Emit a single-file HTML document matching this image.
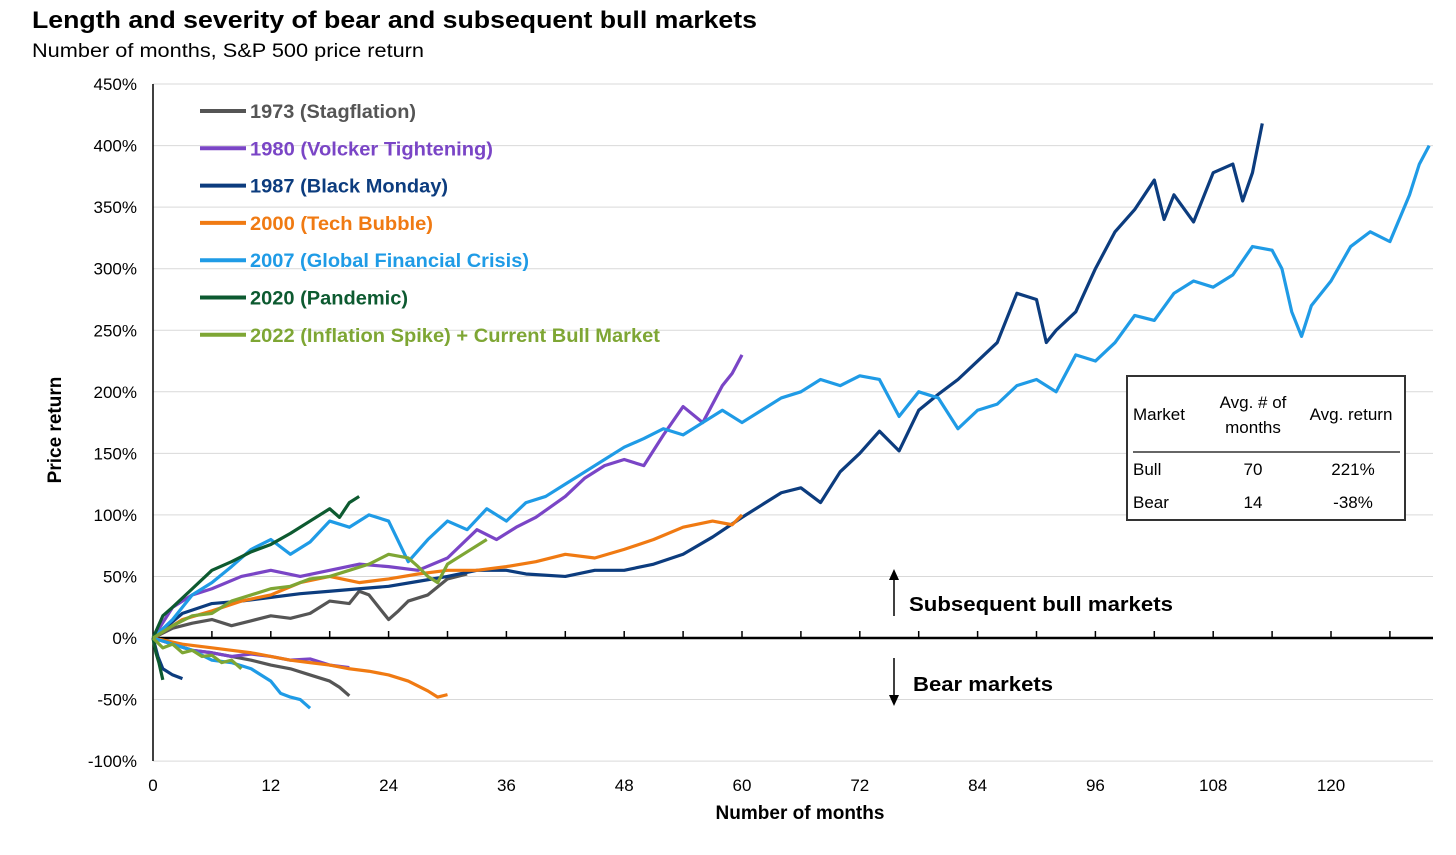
<!DOCTYPE html>
<html><head><meta charset="utf-8">
<style>
body{margin:0;background:#fff;font-family:"Liberation Sans",Arial,sans-serif;}
svg text{font-family:"Liberation Sans",Arial,sans-serif;}
</style></head>
<body>
<svg id="chart" width="1456" height="850" viewBox="0 0 1456 850" xmlns="http://www.w3.org/2000/svg">
<text x="32" y="28" font-size="24" font-weight="bold" fill="#000" textLength="725" lengthAdjust="spacingAndGlyphs">Length and severity of bear and subsequent bull markets</text>
<text x="32" y="57" font-size="19" fill="#000" textLength="392" lengthAdjust="spacingAndGlyphs">Number of months, S&amp;P 500 price return</text>
<g id="grid"></g>
<g id="axes"></g>
<g id="series"></g>
<g id="legend"></g>
<text transform="translate(61,430) rotate(-90)" text-anchor="middle" font-size="19" font-weight="bold">Price return</text>
<text x="800" y="819" text-anchor="middle" font-size="19" font-weight="bold">Number of months</text>
<g>
<line x1="894" y1="616" x2="894" y2="576" stroke="#000" stroke-width="1.5"/>
<polygon points="889,580 899,580 894,569" fill="#000"/>
<text x="909" y="611" font-size="20" font-weight="bold" textLength="264" lengthAdjust="spacingAndGlyphs">Subsequent bull markets</text>
</g>
<g>
<line x1="894" y1="658" x2="894" y2="699" stroke="#000" stroke-width="1.5"/>
<polygon points="889,695 899,695 894,706" fill="#000"/>
<text x="913" y="691" font-size="20" font-weight="bold" textLength="140" lengthAdjust="spacingAndGlyphs">Bear markets</text>
</g>
<g>
<rect x="1127" y="376" width="278" height="144" fill="#fff" stroke="#333" stroke-width="2"/>
<text x="1133" y="420" font-size="17">Market</text>
<text x="1253" y="408" font-size="17" text-anchor="middle">Avg. # of</text>
<text x="1253" y="433" font-size="17" text-anchor="middle">months</text>
<text x="1351" y="420" font-size="17" text-anchor="middle">Avg. return</text>
<line x1="1133" y1="452" x2="1400" y2="452" stroke="#333" stroke-width="1.5"/>
<text x="1133" y="475" font-size="17">Bull</text>
<text x="1253" y="475" font-size="17" text-anchor="middle">70</text>
<text x="1353" y="475" font-size="17" text-anchor="middle">221%</text>
<text x="1133" y="508" font-size="17">Bear</text>
<text x="1253" y="508" font-size="17" text-anchor="middle">14</text>
<text x="1353" y="508" font-size="17" text-anchor="middle">-38%</text>
</g>
</svg>
<script>
const yTicks=[450,400,350,300,250,200,150,100,50,0,-50,-100];
const xTicks=[0,12,24,36,48,60,72,84,96,108,120];
const seriesNames=["1973 (Stagflation)","1980 (Volcker Tightening)","1987 (Black Monday)","2000 (Tech Bubble)","2007 (Global Financial Crisis)","2020 (Pandemic)","2022 (Inflation Spike) + Current Bull Market"];
const legendWidths=[166,243,198,183,279,158,410];
const seriesColors=["#555555","#7a45c6","#0c3c7e","#f07a12","#1f9be6","#0d5a30","#7ea634"];
const bear1973=[[0,0],[2,-5],[4,-10],[6,-12],[8,-15],[10,-18],[12,-22],[14,-25],[16,-30],[18,-35],[19,-40],[20,-47]];
const bull1973=[[0,0],[2,8],[4,12],[6,15],[8,10],[10,14],[12,18],[14,16],[16,20],[18,30],[20,28],[21,38],[22,35],[23,25],[24,15],[25,22],[26,30],[28,35],[30,48],[32,52]];
const bear1980=[[0,0],[2,-5],[4,-10],[6,-12],[8,-15],[10,-13],[12,-15],[14,-18],[16,-17],[18,-22],[20,-24]];
const bull1980=[[0,0],[2,25],[4,35],[6,40],[9,50],[12,55],[15,50],[18,55],[21,60],[24,58],[27,55],[30,65],[33,88],[35,80],[37,90],[39,98],[42,115],[44,130],[46,140],[48,145],[50,140],[52,165],[54,188],[56,175],[58,205],[59,215],[60,230]];
const bear1987=[[0,0],[0.5,-15],[1,-25],[2,-30],[3,-33]];
const bull1987=[[0,0],[3,20],[6,28],[9,30],[12,33],[15,36],[18,38],[21,40],[24,42],[27,46],[30,50],[33,55],[36,55],[38,52],[42,50],[45,55],[48,55],[51,60],[54,68],[57,82],[60,98],[62,108],[64,118],[66,122],[68,110],[70,135],[72,150],[74,168],[76,152],[78,185],[80,198],[82,210],[84,225],[86,240],[88,280],[90,275],[91,240],[92,250],[94,265],[96,300],[98,330],[100,348],[102,372],[103,340],[104,360],[106,338],[108,378],[110,385],[111,355],[112,378],[113,418]];
const bear2000=[[0,0],[3,-5],[6,-8],[8,-10],[10,-12],[12,-15],[14,-18],[16,-20],[18,-22],[20,-25],[22,-27],[24,-30],[26,-35],[28,-43],[29,-48],[30,-46]];
const bull2000=[[0,0],[3,15],[6,22],[9,30],[12,35],[15,45],[18,50],[21,45],[24,48],[27,52],[30,55],[33,55],[36,58],[39,62],[42,68],[45,65],[48,72],[51,80],[54,90],[57,95],[59,92],[60,100]];
const bear2007=[[0,0],[2,-5],[4,-10],[6,-18],[8,-20],[10,-25],[12,-35],[13,-45],[14,-48],[15,-50],[16,-57]];
const bull2007=[[0,0],[2,15],[4,35],[6,45],[8,58],[10,72],[12,80],[14,68],[16,78],[18,95],[20,90],[22,100],[24,95],[26,62],[28,80],[30,95],[32,88],[34,105],[36,95],[38,110],[40,115],[42,125],[44,135],[46,145],[48,155],[50,162],[52,170],[54,165],[56,175],[58,185],[60,175],[62,185],[64,195],[66,200],[68,210],[70,205],[72,213],[74,210],[76,180],[78,200],[80,195],[82,170],[84,185],[86,190],[88,205],[90,210],[92,200],[94,230],[96,225],[98,240],[100,262],[102,258],[104,280],[106,290],[108,285],[110,295],[112,318],[114,315],[115,300],[116,265],[117,245],[118,270],[120,290],[122,318],[124,330],[126,322],[128,360],[129,385],[130,400]];
const bear2020=[[0,0],[0.3,-12],[0.6,-20],[1,-34]];
const bull2020=[[0,0],[1,18],[2,25],[4,40],[6,55],[8,62],[10,70],[12,76],[14,85],[16,95],[18,105],[19,98],[20,110],[21,115]];
const bear2022=[[0,0],[1,-8],[2,-5],[3,-12],[4,-10],[5,-15],[6,-14],[7,-20],[8,-18],[9,-25]];
const bull2022=[[0,0],[2,10],[4,18],[6,20],[8,30],[10,35],[12,40],[14,42],[16,48],[18,50],[20,55],[22,60],[24,68],[26,65],[27,58],[28,50],[29,45],[30,60],[32,70],[34,80]];
const seriesData=[[bear1973,bull1973],[bear1980,bull1980],[bear1987,bull1987],[bear2000,bull2000],[bear2007,bull2007],[bear2020,bull2020],[bear2022,bull2022]];
const seriesKeys=["1973","1980","1987","2000","2007","2020","2022"];
const NS="http://www.w3.org/2000/svg";
const X0=153,XPER=117.8/12,Y0=638,YPER=61.55/50;
const xs=m=>X0+m*XPER, ys=v=>Y0-v*YPER;
function mk(tag,attrs,parent){const e=document.createElementNS(NS,tag);for(const k in attrs)e.setAttribute(k,attrs[k]);parent.appendChild(e);return e;}
const grid=document.getElementById('grid'),axes=document.getElementById('axes'),ser=document.getElementById('series'),leg=document.getElementById('legend');
yTicks.forEach(t=>{
 if(t!==0){const g=mk('line',{x1:X0,x2:1433,y1:ys(t),y2:ys(t),stroke:'#d9d9d9','stroke-width':1},grid);
 
 }
 const lb=mk('text',{x:137,y:ys(t)+6,'text-anchor':'end','font-size':17},axes);lb.textContent=t+'%';
 
 
});
xTicks.forEach(t=>{
 const lb=mk('text',{x:xs(t),y:791,'text-anchor':'middle','font-size':17},axes);lb.textContent=t;
 
 
});
for(let m=6;m<=130;m+=6){const tk=mk('line',{x1:xs(m),x2:xs(m),y1:Y0,y2:Y0-7,stroke:'#000','stroke-width':1.5},axes);
 
 }
const ya=mk('line',{x1:X0,x2:X0,y1:84,y2:761,stroke:'#000','stroke-width':1.5},axes);


const xa=mk('line',{x1:X0,x2:1433,y1:Y0,y2:Y0,stroke:'#000','stroke-width':2.5},axes);


seriesData.forEach((pair,i)=>{
 pair.forEach((arr,j)=>{
  const p=mk('polyline',{points:arr.map(d=>xs(d[0])+','+ys(d[1])).join(' '),fill:'none',stroke:seriesColors[i],'stroke-width':3.2,'stroke-linejoin':'round'},ser);
  
  
 });
 const y=111+i*37.3;
 const g=mk('g',{},leg);
 
 
 mk('line',{x1:200,x2:246,y1:y,y2:y,stroke:seriesColors[i],'stroke-width':4},g);
 const t=mk('text',{x:250,y:y+7,'font-size':19,'font-weight':'bold',fill:seriesColors[i],textLength:legendWidths[i],lengthAdjust:'spacingAndGlyphs'},g);t.textContent=seriesNames[i];
});
</script>
</body></html>
